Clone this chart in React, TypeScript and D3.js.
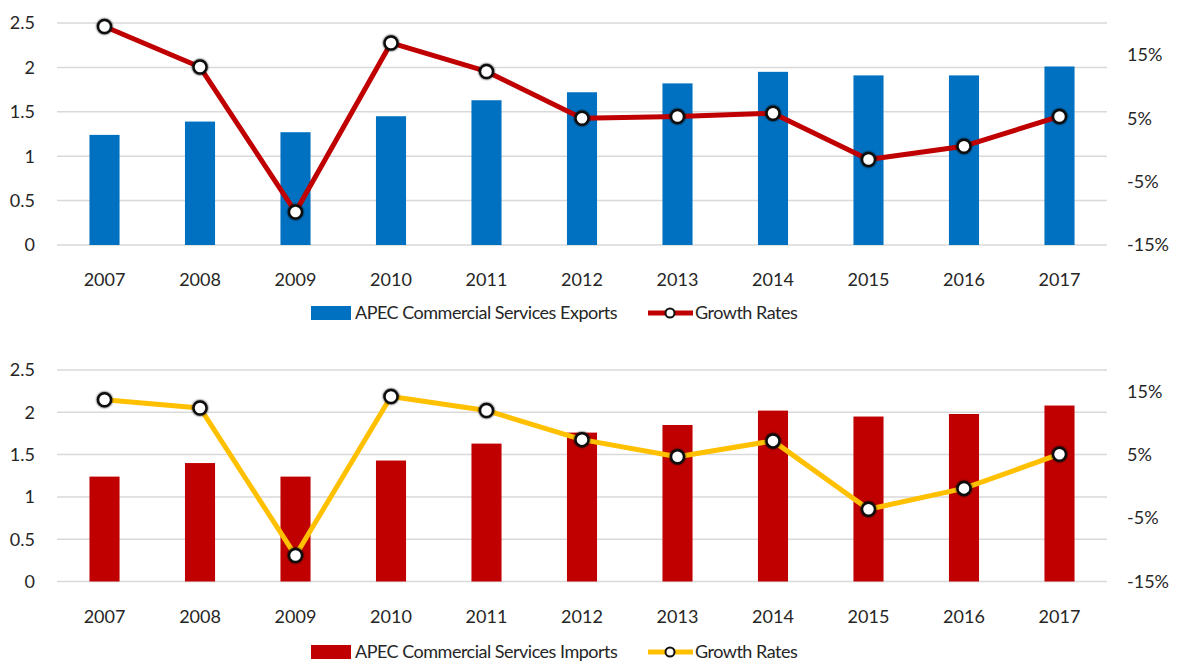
import * as d3 from 'd3';
import React from 'react';

const years = ['2007', '2008', '2009', '2010', '2011', '2012', '2013', '2014', '2015', '2016', '2017'];
const exportsValues = [1.24, 1.39, 1.27, 1.45, 1.63, 1.72, 1.82, 1.95, 1.91, 1.91, 2.01];
const exportsGrowth = [19.5, 13.1, -9.8, 16.9, 12.4, 5.0, 5.3, 5.8, -1.5, 0.6, 5.3];
const importsValues = [1.24, 1.4, 1.24, 1.43, 1.63, 1.76, 1.85, 2.02, 1.95, 1.98, 2.08];
const importsGrowth = [13.7, 12.4, -10.9, 14.2, 12.0, 7.4, 4.7, 7.2, -3.6, -0.3, 5.1];
const leftTicks = [0, 0.5, 1, 1.5, 2, 2.5];
const rightTicks = [-15, -5, 5, 15];

const W = 1178;
const H = 662;
const FONT = 'Lato, "Open Sans", sans-serif';
const TEXT = '#262626';

const Panel = ({ top, bottom, y15, bars, growth, barColor, lineColor, barLabel, legendY }) => {
  const x = d3.scaleBand().domain(years).range([57, 1107]).paddingInner(0.685).paddingOuter(0.34);
  const y = d3.scaleLinear().domain([0, 2.5]).range([bottom, top]);
  const yr = d3.scaleLinear().domain([-15, 15]).range([bottom, y15]);
  const line = d3
    .line()
    .x((d, i) => x(years[i]) + x.bandwidth() / 2)
    .y((d) => yr(d));

  return (
    <g>
      {/* gridlines */}
      {leftTicks.map((t) => (
        <line key={t} x1={57} x2={1107} y1={y(t)} y2={y(t)} stroke="#d9d9d9" strokeWidth={1.5} />
      ))}
      {leftTicks.map((t) => (
        <text key={'l' + t} x={35} y={y(t)} dy="0.35em" textAnchor="end" fontSize={18} fill={TEXT}>
          {t}
        </text>
      ))}
      {rightTicks.map((t) => (
        <text key={'r' + t} x={1127} y={yr(t)} dy="0.35em" fontSize={18} fill={TEXT}>
          {t + '%'}
        </text>
      ))}
      {bars.map((v, i) => (
        <rect key={years[i]} x={x(years[i])} width={x.bandwidth()} y={y(v)} height={y(0) - y(v)} fill={barColor} />
      ))}
      {years.map((yr0) => (
        <text key={'x' + yr0} x={x(yr0) + x.bandwidth() / 2} y={bottom + 41} textAnchor="middle" fontSize={18} fill={TEXT}>
          {yr0}
        </text>
      ))}
      <path d={line(growth)} fill="none" stroke={lineColor} strokeWidth={5} strokeLinejoin="round" />
      {growth.map((v, i) => (
        <circle
          key={'c' + i}
          cx={x(years[i]) + x.bandwidth() / 2}
          cy={yr(v)}
          r={6.5}
          fill="#fff"
          stroke="#111"
          strokeWidth={2.5}
          filter="url(#glow)"
        />
      ))}
      {/* legend */}
      <rect x={311} y={legendY - 7} width={40} height={14} fill={barColor} />
      <text x={355} y={legendY} dy="0.35em" fontSize={18} letterSpacing={-0.5} fill={TEXT}>
        {barLabel}
      </text>
      <line x1={648} x2={693} y1={legendY} y2={legendY} stroke={lineColor} strokeWidth={5} />
      <circle cx={670} cy={legendY} r={4.5} fill="#fff" stroke="#111" strokeWidth={2} />
      <text x={695} y={legendY} dy="0.35em" fontSize={18} letterSpacing={-0.5} fill={TEXT}>
        Growth Rates
      </text>
    </g>
  );
};

export default function App() {
  return (
    <svg
      width={W}
      height={H}
      style={{ position: 'absolute', left: 0, top: 0, background: '#fff' }}
      fontFamily={FONT}
    >
      <defs>
        <filter id="glow" x="-50%" y="-50%" width="200%" height="200%">
          <feGaussianBlur in="SourceAlpha" stdDeviation="1" result="b" />
          <feMerge>
            <feMergeNode in="b" />
            <feMergeNode in="SourceGraphic" />
          </feMerge>
        </filter>
      </defs>
      <Panel
        top={23}
        bottom={245}
        y15={55}
        bars={exportsValues}
        growth={exportsGrowth}
        barColor="#0070C0"
        lineColor="#C00000"
        barLabel="APEC Commercial Services Exports"
        legendY={313}
      />
      <Panel
        top={370}
        bottom={581.5}
        y15={391.5}
        bars={importsValues}
        growth={importsGrowth}
        barColor="#C00000"
        lineColor="#FFC000"
        barLabel="APEC Commercial Services Imports"
        legendY={652}
      />
    </svg>
  );
}
